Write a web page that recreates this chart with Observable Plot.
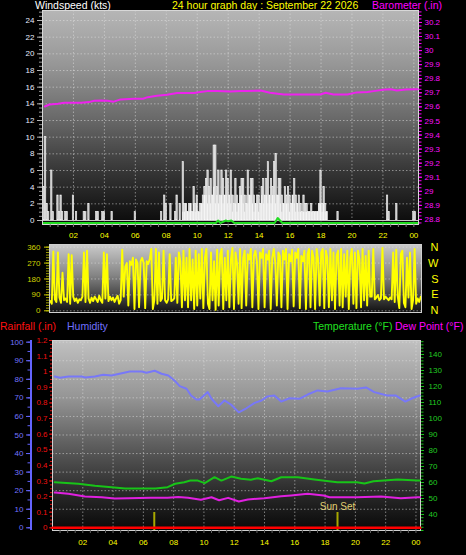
<!DOCTYPE html>
<html><head><meta charset="utf-8">
<script src="https://cdn.jsdelivr.net/npm/d3@7"></script>
<script src="https://cdn.jsdelivr.net/npm/@observablehq/plot@0.6"></script>
<style>
html,body{margin:0;padding:0;background:#000;}
#root{position:relative;width:466px;height:555px;background:#000;overflow:hidden;font-family:"Liberation Sans",Arial,sans-serif;}
.t{position:absolute;font-size:10.5px;line-height:12px;white-space:nowrap;}
</style></head>
<body><div id="root">
<div class="t" style="left:35px;top:-1px;color:#ffffff">Windspeed (kts)</div>
<div class="t" style="left:172px;top:-1px;color:#ffff00">24 hour graph day : September 22 2026</div>
<div class="t" style="left:372px;top:-1px;color:#ff00ff">Barometer (.in)</div>
<div class="t" style="left:0px;top:320px;color:#ff1010">Rainfall (.in)</div>
<div class="t" style="left:67px;top:320px;color:#7070ff">Humidity</div>
<div class="t" style="left:313px;top:320px;color:#20e020">Temperature (°F)</div>
<div class="t" style="left:395px;top:320px;color:#ff00ff">Dew Point (°F)</div>
</div>
<script>
// ---------- data ----------
const hourTicks = [2,4,6,8,10,12,14,16,18,20,22,24];
const hourLabels = ["02","04","06","08","10","12","14","16","18","20","22","00"];
const windTicks = [0,2,4,6,8,10,12,14,16,18,20,22,24];
const baroTicks = [28.8,28.9,29.0,29.1,29.2,29.3,29.4,29.5,29.6,29.7,29.8,29.9,30.0,30.1,30.2];
const dirTicks = [0,90,180,270,360];
const compassDeg = [360,270,180,90,0];
const compassLabels = ["N","W","S","E","N"];
const humTicks = [0,10,20,30,40,50,60,70,80,90,100];
const rainTicks = [0,0.1,0.2,0.3,0.4,0.5,0.6,0.7,0.8,0.9,1.0,1.1,1.2];
const tempTicks = [40,50,60,70,80,90,100,110,120,130,140];

const windHours = [0.1,0.2,0.3,0.4,0.6,0.7,1.0,1.1,1.2,1.3,1.5,1.6,2.0,2.2,2.7,2.8,3.0,3.5,3.6,3.9,4.0,4.5,6.0,7.7,7.9,8.0,8.3,8.6,8.7,8.9,
  9.1,9.2,9.3,9.4,9.5,9.6,9.7,9.8,9.9,
  10.0,10.1,10.2,10.3,10.4,10.5,10.6,10.7,10.8,10.9,
  11.0,11.1,11.2,11.3,11.4,11.5,11.6,11.7,11.8,11.9,
  12.0,12.1,12.2,12.3,12.4,12.5,12.6,12.7,12.8,12.9,
  13.0,13.1,13.2,13.3,13.4,13.5,13.6,13.7,13.8,13.9,
  14.0,14.1,14.2,14.3,14.4,14.5,14.6,14.7,14.8,14.9,
  15.0,15.1,15.2,15.3,15.4,15.5,15.6,15.7,15.8,15.9,
  16.0,16.1,16.2,16.3,16.4,16.5,16.6,16.7,16.8,16.9,
  17.0,17.1,17.2,17.3,17.4,17.5,17.6,17.7,17.8,17.9,
  18.0,18.1,18.2,18.3,18.4,
  19.1,22.3,22.4,22.9,24.0,24.1];
const windGust = [4,10,2,1,6,1,3,1,3,1,1,1,3,1,1,1,2,1,1,1,1,1,1,1,3,2,2,1,3,2,
  7,2,2,1,2,2,1,4,2,
  3,1,2,2,3,4,5,6,4,5,
  3,9,9,4,6,3,6,5,3,6,
  5,3,6,3,2,5,3,2,4,5,
  5,3,2,6,3,5,5,3,2,3,
  3,2,4,5,3,5,7,3,5,4,
  7,8,3,5,5,3,2,4,3,4,
  3,2,3,5,3,2,3,2,1,3,
  2,2,1,1,2,1,1,1,1,2,
  6,2,4,2,1,
  1,3,1,2,1,1];
const speedHours = [9.1,9.2,9.3,9.4,9.5,9.6,9.7,9.8,9.9,
  10.0,10.1,10.2,10.3,10.4,10.5,10.6,10.7,10.8,10.9,
  11.0,11.1,11.2,11.3,11.4,11.5,11.6,11.7,11.8,11.9,
  12.0,12.1,12.2,12.3,12.4,12.5,12.6,12.7,12.8,12.9,
  13.0,13.1,13.2,13.3,13.4,13.5,13.6,13.7,13.8,13.9,
  14.0,14.1,14.2,14.3,14.4,14.5,14.6,14.7,14.8,14.9,
  15.0,15.1,15.2,15.3,15.4,15.5,15.6,15.7,15.8,15.9,
  16.0,16.1,16.2,16.3,16.4,16.5,16.6,16.7,16.8,16.9,
  17.0,17.1,17.2,17.3,17.4,17.5,17.6,17.7,17.8,17.9,
  18.0,18.1,18.2,18.3,18.4];
const windSpeed = [1,1,2,1,1,2,1,2,1,
  2,1,1,2,2,3,3,2,3,2,
  3,4,2,3,2,3,3,2,3,3,
  2,3,2,1,3,2,1,2,3,3,
  2,1,3,2,3,3,2,1,2,2,
  1,2,3,2,3,3,2,3,2,3,
  3,2,3,3,2,1,2,2,2,2,
  1,2,3,2,1,2,1,1,2,1,
  1,1,1,1,1,1,1,1,1,2,
  2,1,2,1,1];
const avgHours = [0.05,11.2,11.35,11.5,11.85,12.0,12.2,12.4,15.0,15.2,15.35,15.5,24.3];
const avgValues = [0,0,0.3,0,0.3,0.2,0.3,0,0,0.6,0.3,0,0];

const baroHours = [0.15,0.45,1.0,1.4,2.5,3.0,3.35,3.8,4.2,4.6,5.05,5.9,6.5,6.8,7.4,8.05,8.7,9.8,10.2,10.65,11.3,12.15,12.8,13.2,14.1,14.7,15.6,16.9,17.95,18.3,18.8,19.7,20.3,21.0,21.4,22.0,22.5,22.9,23.5,24.25];
const baroValues = [29.603,29.617,29.622,29.629,29.629,29.634,29.644,29.646,29.644,29.637,29.653,29.658,29.658,29.669,29.679,29.686,29.698,29.698,29.705,29.712,29.712,29.710,29.712,29.712,29.717,29.700,29.688,29.688,29.688,29.700,29.688,29.688,29.703,29.705,29.712,29.722,29.726,29.717,29.724,29.726];

const dirStart = 0.05, dirStep = 0.1;
const dirValues = [
  55,40,335,65,50,330,75,45,215,60,
  70,50,320,40,315,80,55,70,45,65,
  60,80,330,50,340,70,45,75,55,80,
  65,50,85,60,45,330,70,320,55,80,
  60,75,50,70,85,40,60,345,80,250,
  270,30,280,260,300,10,290,270,20,280,
  300,270,15,280,265,295,350,10,60,350,
  40,330,55,70,340,60,45,65,320,55,
  60,70,300,45,330,280,20,340,60,300,
  20,350,60,290,10,340,30,320,70,350,
  15,300,350,40,10,330,60,280,5,345,
  30,320,350,10,300,60,340,20,290,355,
  10,330,270,40,350,15,300,340,30,320,
  290,350,20,310,340,280,10,330,300,350,
  20,320,290,340,10,300,350,270,30,330,
  310,20,340,290,350,10,320,280,345,25,
  330,300,350,15,310,280,340,10,320,350,
  20,340,300,10,350,290,30,330,350,15,
  340,300,20,350,60,330,10,310,340,30,
  350,20,320,80,340,10,300,350,40,330,
  15,340,290,20,350,60,310,30,340,80,
  80,350,65,75,90,60,70,355,65,80,
  70,60,75,65,330,50,345,80,15,320,
  340,45,20,300,75,330,10,60,350,40,
  70,50,80];

const rainHours = [0,6,12,18,24.3];
const rainValues = [0,0,0,0,0];

const humHours = [0.15,0.5,1.05,1.95,2.15,2.8,3.35,3.9,4.35,5.1,5.9,6.2,6.75,7.2,7.65,8.05,8.4,8.85,9.15,9.5,9.7,9.95,10.25,10.5,10.95,11.35,11.8,12.3,12.8,13.35,13.8,14.2,14.65,15.1,15.65,16.3,16.85,17.5,18.15,19.05,20.15,20.7,21.25,22.1,22.65,23.3,23.75,24.25];
const humValues = [81.5,80.8,81.5,81.5,81,81.5,82.4,82,82.8,84.2,84.2,83.5,84.6,83,82,79.4,76.3,74.9,71.3,69.1,69.1,70.9,73.1,69.5,65.5,68.6,66.3,62.2,64.4,67.3,68.6,70.8,71.3,68,69.8,69.5,71.8,74,73.4,75.2,74.9,75.6,73.1,71.3,71.3,68,69.8,71.3];

const tempHours = [0.15,1.7,2.8,3.9,4.8,6.8,7.6,8.1,8.7,9.1,9.6,10.05,10.7,11.15,11.8,12.45,13.1,13.55,14.45,15.1,16.2,17.3,18.8,20.1,20.6,21.2,22.8,24.1,24.28];
const tempValues = [60.2,59.2,57.9,57.1,56.3,56.3,57.1,59.2,60.2,61.2,61.2,59.6,63.3,61.2,63.7,62.3,61.7,62.7,60.8,63.3,63.3,61.9,60.2,60.2,59.4,60.8,61.9,61.2,61.2];

const dewHours = [0.15,1.05,2.15,3.25,4.1,5.0,6.5,7.6,8.3,8.95,9.8,10.5,11.0,11.6,12.3,12.9,14.0,15.1,15.75,16.85,17.9,18.3,20.1,21.7,23.0,24.1,24.28];
const dewValues = [53.7,52.9,51.2,50.8,50.0,50.2,50.4,50.4,51.0,50.4,49.2,50.8,48.9,50.4,48.1,49.4,50.2,51.4,51.9,52.9,51.9,50.8,50.8,51.2,50.2,50.8,50.8];

const sunHours = [6.72, 18.82];
const sunLabels = ["", "Sun Set"];

// ---------- helpers ----------
const FONT = '"Liberation Sans", Arial, sans-serif';
const xDomain = [0, 24.3];
const root = document.getElementById("root");
const fmtHour = d => hourLabels[hourTicks.indexOf(d)];
const fmtDec = d => String(+(+d).toFixed(1));
const barHalf = 0.045, speedHalf = 0.028;
function place(svg, top) {
  svg.style.position = "absolute";
  svg.style.left = "0px";
  svg.style.top = top + "px";
  root.appendChild(svg);
}
function gradient(id, stops) {
  return () => {
    const ns = "http://www.w3.org/2000/svg";
    const defs = document.createElementNS(ns, "defs");
    const g = document.createElementNS(ns, "linearGradient");
    g.setAttribute("id", id);
    g.setAttribute("x1", "0"); g.setAttribute("y1", "0");
    g.setAttribute("x2", "0"); g.setAttribute("y2", "1");
    for (const [o, c] of stops) {
      const s = document.createElementNS(ns, "stop");
      s.setAttribute("offset", o);
      s.setAttribute("stop-color", c);
      g.appendChild(s);
    }
    defs.appendChild(g);
    return defs;
  };
}
function frameOpts(h, m) {
  return {
    width: 466, height: h,
    marginTop: m[0], marginRight: m[1], marginBottom: m[2], marginLeft: m[3],
    style: {background: "transparent", fontFamily: FONT, fontSize: "8px", overflow: "visible"}
  };
}
const grid = {stroke: "#e4e4e4", strokeOpacity: 0.5, strokeDasharray: "1.5,2"};

// ---------- panel 1 : wind speed ----------
const P1 = {top: 0, h: 242, m: [10, 48, 18, 42]};
place(Plot.plot({
  ...frameOpts(P1.h, P1.m),
  x: {domain: xDomain},
  y: {domain: [-0.48, 25.2]},
  marks: [
    gradient("g1", [[0, "#b6b6b6"], [0.25, "#979797"], [0.5, "#6a6a6a"], [0.75, "#363636"], [1, "#0a0a0a"]]),
    Plot.frame({fill: "url(#g1)"}),
    Plot.gridX(hourTicks, grid),
    Plot.gridY(windTicks, grid),
    Plot.rect(windGust, {x1: windHours.map(h => h - barHalf), x2: windHours.map(h => h + barHalf), y1: 0, y2: windGust, fill: "#c6c6c6", stroke: "#f2f2f2", strokeWidth: 0.6}),
    Plot.rect(windSpeed, {x1: speedHours.map(h => h - speedHalf), x2: speedHours.map(h => h + speedHalf), y1: 0, y2: windSpeed, fill: "#ffffff", fillOpacity: 0.9}),
    Plot.ruleY([0], {stroke: "#c8c8c8"}),
    Plot.line(avgValues, {x: avgHours, y: avgValues, stroke: "#22dd22", strokeWidth: 2, dy: 2.5}),
    Plot.frame({stroke: "#d8d8d8"}),
    Plot.axisY(d3.range(0, 25.01, 0.5), {anchor: "left", tickSize: 3, tickFormat: () => "", stroke: "#9a9a9a"}),
    Plot.axisY(windTicks, {anchor: "left", tickSize: 5, tickPadding: 3, stroke: "#b4b4b4", fill: "#e6ecff"}),
    Plot.axisX(d3.range(0.5, 24.3, 0.5), {anchor: "bottom", tickSize: 3, tickFormat: () => "", stroke: "#808080"}),
    Plot.axisX(hourTicks, {anchor: "bottom", tickSize: 0, tickPadding: 7.5, tickFormat: fmtHour, fill: "#ffff00"})
  ]
}), P1.top);

// barometer overlay
place(Plot.plot({
  ...frameOpts(P1.h, P1.m),
  x: {domain: xDomain, axis: null},
  y: {domain: [28.764, 30.285]},
  marks: [
    Plot.axisY(d3.range(28.775, 30.28, 0.025), {anchor: "right", tickSize: 2.5, tickFormat: () => "", stroke: "#ff00ff"}),
    Plot.axisY(baroTicks, {anchor: "right", tickSize: 3, tickPadding: 3, tickFormat: fmtDec, stroke: "#ff00ff", fill: "#ff10ff"}),
    Plot.line(baroValues, {x: baroHours, y: baroValues, stroke: "#ee22ee", strokeWidth: 2})
  ]
}), P1.top);

// ---------- panel 2 : wind direction ----------
const P2 = {top: 240, h: 80, m: [4, 45, 8, 49]};
place(Plot.plot({
  ...frameOpts(P2.h, P2.m),
  x: {domain: xDomain, axis: null},
  y: {domain: [-9.6, 375]},
  marks: [
    gradient("g2", [[0, "#cacaca"], [0.45, "#858585"], [1, "#101010"]]),
    Plot.frame({fill: "url(#g2)"}),
    Plot.gridY(dirTicks, grid),
    Plot.line(dirValues, {x: dirValues.map((d, i) => dirStart + i * dirStep), y: dirValues, stroke: "#ffff00", strokeWidth: 1.9}),
    Plot.frame({stroke: "#cfcfcf"}),
    Plot.axisY(d3.range(0, 361, 15), {anchor: "left", tickSize: 3, tickFormat: () => "", stroke: "#a0a000"}),
    Plot.axisY(dirTicks, {anchor: "left", tickSize: 5, tickPadding: 4, stroke: "#c8c800", fill: "#d0d000"}),
    Plot.text(compassDeg, {y: compassDeg, text: compassLabels, frameAnchor: "right", dx: 17, fill: "#ffff00", fontSize: 11})
  ]
}), P2.top);

// ---------- panel 3 ----------
const P3 = {top: 335, h: 220, m: [5, 46, 25, 52]};
place(Plot.plot({
  ...frameOpts(P3.h, P3.m),
  x: {domain: xDomain},
  y: {domain: [30, 148.75], axis: null},
  marks: [
    gradient("g3", [[0, "#c0c0c0"], [0.3, "#959595"], [0.55, "#5e5e5e"], [0.8, "#2a2a2a"], [1, "#080808"]]),
    Plot.frame({fill: "url(#g3)"}),
    Plot.gridX(hourTicks, grid),
    Plot.ruleX(sunHours, {x: sunHours, insetTop: 172, stroke: "#a8a800", strokeWidth: 2}),
    Plot.text(sunLabels, {x: sunHours, text: sunLabels, frameAnchor: "bottom", dy: -21, fill: "#e0d070", fontSize: 10}),
    Plot.frame({stroke: "#d0d0d0"}),
    Plot.axisX(d3.range(0.5, 24.3, 0.5), {anchor: "bottom", tickSize: 3, tickFormat: () => "", stroke: "#606060"}),
    Plot.axisX(hourTicks, {anchor: "bottom", tickSize: 0, tickPadding: 8.5, tickFormat: fmtHour, fill: "#ffff00"})
  ]
}), P3.top);

place(Plot.plot({
  ...frameOpts(P3.h, P3.m),
  x: {domain: xDomain, axis: null},
  y: {domain: [-1.45, 100.9]},
  marks: [
    Plot.gridY(humTicks.slice(1), grid),
    Plot.ruleX([xDomain[0]], {dx: -21.5, stroke: "#6464ff", strokeWidth: 2}),
    Plot.axisY(d3.range(0, 101, 5), {anchor: "left", dx: -22, tickSize: 2.5, tickFormat: () => "", stroke: "#6464ff"}),
    Plot.axisY(humTicks, {anchor: "left", dx: -22, tickSize: 4, tickPadding: 3, stroke: "#6464ff", fill: "#7474ff"}),
    Plot.line(humValues, {x: humHours, y: humValues, stroke: "#7878f8", strokeWidth: 2})
  ]
}), P3.top);

place(Plot.plot({
  ...frameOpts(P3.h, P3.m),
  x: {domain: xDomain, axis: null},
  y: {domain: [-0.0173, 1.2]},
  marks: [
    Plot.axisY(d3.range(0, 1.2001, 0.025), {anchor: "left", tickSize: 2, tickFormat: () => "", stroke: "#e01010"}),
    Plot.axisY(rainTicks, {anchor: "left", tickSize: 3, tickPadding: 2, tickFormat: fmtDec, stroke: "#e01010", fill: "#ee1010"}),
    Plot.line(rainValues, {x: rainHours, y: rainValues, stroke: "#ff0000", strokeWidth: 2.5})
  ]
}), P3.top);

place(Plot.plot({
  ...frameOpts(P3.h, P3.m),
  x: {domain: xDomain, axis: null},
  y: {domain: [30, 148.75]},
  marks: [
    Plot.axisY(d3.range(30, 149, 2), {anchor: "right", tickSize: 2.5, tickFormat: () => "", stroke: "#18c018"}),
    Plot.axisY(tempTicks, {anchor: "right", tickSize: 3, tickPadding: 5, stroke: "#18c018", fill: "#22cc22"}),
    Plot.line(dewValues, {x: dewHours, y: dewValues, stroke: "#e020e0", strokeWidth: 2}),
    Plot.line(tempValues, {x: tempHours, y: tempValues, stroke: "#18c418", strokeWidth: 2})
  ]
}), P3.top);
</script>
</body></html>
